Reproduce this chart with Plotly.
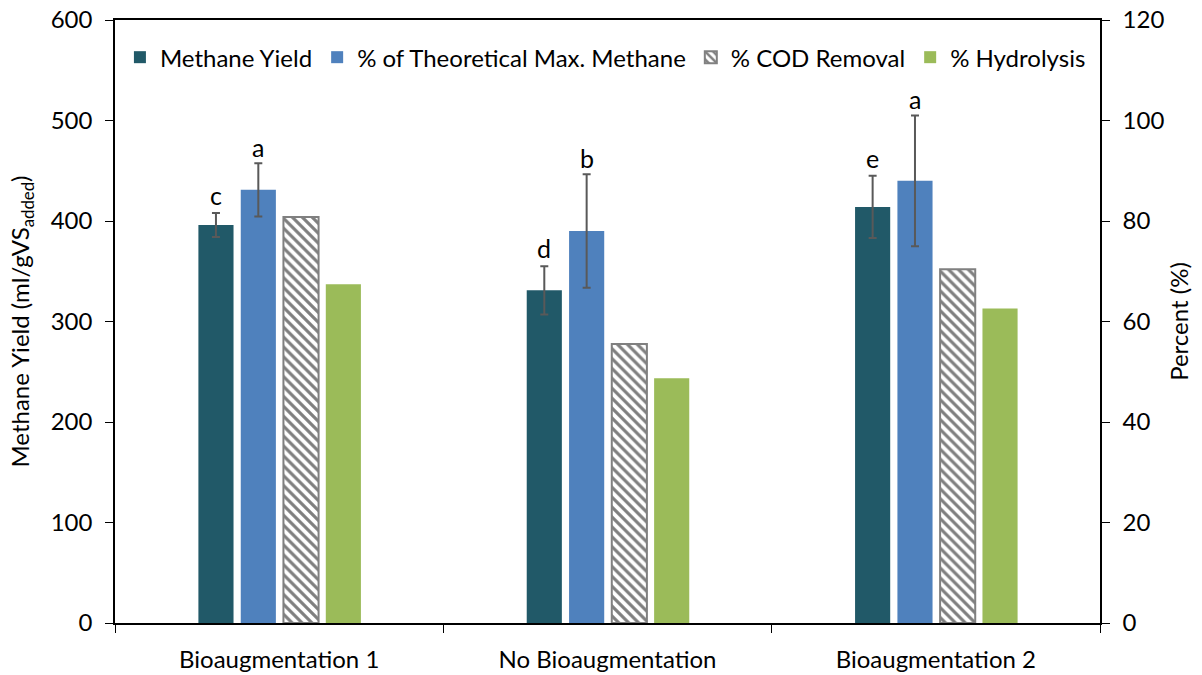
import plotly.graph_objects as go

categories = ["Bioaugmentation 1", "No Bioaugmentation", "Bioaugmentation 2"]
methane_yield = [396, 331, 414]
methane_err = [12, 24, 31]
theoretical_pct = [86.2, 78.0, 88.0]
theoretical_err = [5.3, 11.3, 13.0]
cod_removal = [80.8, 55.5, 70.4]
hydrolysis = [67.4, 48.7, 62.6]
letters_methane = ["c", "d", "e"]
letters_theor = ["a", "b", "a"]

FONT = "Lato"
FS = 24
W = 0.107
offsets = [-0.246, -0.117, 0.013, 0.142]
err_col = "#595959"

fig = go.Figure()
fig.add_trace(go.Bar(
    x=categories, y=methane_yield, name="Methane Yield", yaxis="y",
    marker=dict(color="#215968", line=dict(width=0)),
    width=W, offset=offsets[0],
    error_y=dict(type="data", array=methane_err, color=err_col, thickness=2, width=4),
))
fig.add_trace(go.Bar(
    x=categories, y=theoretical_pct, name="% of Theoretical Max. Methane", yaxis="y2",
    marker=dict(color="#4F81BD", line=dict(width=0)),
    width=W, offset=offsets[1],
    error_y=dict(type="data", array=theoretical_err, color=err_col, thickness=2, width=4),
))
fig.add_trace(go.Bar(
    x=categories, y=cod_removal, name="% COD Removal", yaxis="y2",
    marker=dict(color="white", line=dict(color="#808080", width=2),
                pattern=dict(shape="\\", fgcolor="black", bgcolor="white", size=7, solidity=0.45)),
    width=W, offset=offsets[2],
))
fig.add_trace(go.Bar(
    x=categories, y=hydrolysis, name="% Hydrolysis", yaxis="y2",
    marker=dict(color="#9BBB59", line=dict(width=0)),
    width=W, offset=offsets[3],
))

annotations = []
for i in range(len(categories)):
    annotations.append(dict(
        x=i + offsets[0] + W / 2, y=methane_yield[i] + methane_err[i], xref="x", yref="y",
        text=letters_methane[i], showarrow=False, yanchor="middle", yshift=18,
        font=dict(family=FONT, size=FS + 1, color="black")))
    annotations.append(dict(
        x=i + offsets[1] + W / 2, y=theoretical_pct[i] + theoretical_err[i], xref="x", yref="y2",
        text=letters_theor[i], showarrow=False, yanchor="middle", yshift=16,
        font=dict(family=FONT, size=FS + 1, color="black")))

fig.update_layout(
    width=1202, height=675,
    margin=dict(l=115, r=102, t=20, b=52, autoexpand=False),
    paper_bgcolor="white", plot_bgcolor="white",
    font=dict(family=FONT, size=FS, color="black"),
    barmode="overlay",
    showlegend=True,
    legend=dict(orientation="h", x=0.005, y=0.975, xanchor="left", yanchor="top",
                font=dict(family=FONT, size=FS), bgcolor="rgba(0,0,0,0)",
                itemwidth=30, traceorder="normal"),
    xaxis=dict(type="category", showline=True, linecolor="black", linewidth=1.5,
               mirror=True, ticks="outside", tickson="boundaries", ticklen=8,
               tickcolor="black", showgrid=False, tickfont=dict(size=FS),
               ticklabelstandoff=14, range=[-0.5, 2.5], automargin=False),
    yaxis=dict(range=[0, 600], dtick=100, showline=True, linecolor="black", linewidth=1.5,
               ticks="outside", ticklen=8, tickcolor="black", showgrid=False,
               zeroline=False, tickfont=dict(size=FS), ticklabelstandoff=8, automargin=False,
               title=dict(text="Methane Yield (ml/gVS<sub>added</sub>)", font=dict(size=FS), standoff=14)),
    yaxis2=dict(range=[0, 120], dtick=20, overlaying="y", side="right", showline=True,
                linecolor="black", linewidth=1.5, ticks="outside", ticklen=8, tickcolor="black",
                showgrid=False, zeroline=False, tickfont=dict(size=FS), ticklabelstandoff=8,
                automargin=False,
                title=dict(text="Percent (%)", font=dict(size=FS), standoff=8)),
    annotations=annotations,
)

fig.write_html("out.html")
